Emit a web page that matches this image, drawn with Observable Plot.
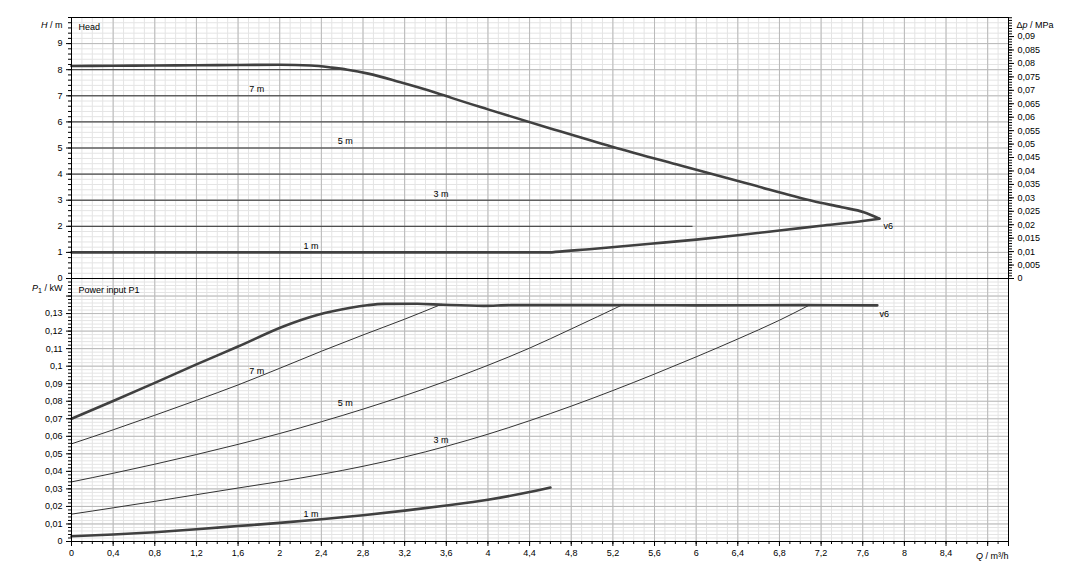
<!DOCTYPE html>
<html><head><meta charset="utf-8">
<script src="https://cdn.jsdelivr.net/npm/d3@7"></script>
<script src="https://cdn.jsdelivr.net/npm/@observablehq/plot@0.6"></script>
<style>
body{margin:0;background:#fff;}
#chart{position:relative;width:1081px;height:577px;background:#fff;overflow:hidden;}
#chart svg{position:absolute;left:0;}
</style></head><body><div id="chart"></div>
<script>
// ---------- tick labels ----------
const qTicks = [0,0.4,0.8,1.2,1.6,2,2.4,2.8,3.2,3.6,4,4.4,4.8,5.2,5.6,6,6.4,6.8,7.2,7.6,8,8.4,8.8];
const qTickLabels = ["0","0,4","0,8","1,2","1,6","2","2,4","2,8","3,2","3,6","4","4,4","4,8","5,2","5,6","6","6,4","6,8","7,2","7,6","8","8,4",""];
const hTicks = [0,1,2,3,4,5,6,7,8,9];
const hTickLabels = ["0","1","2","3","4","5","6","7","8","9"];
const pTicks = [0,0.01,0.02,0.03,0.04,0.05,0.06,0.07,0.08,0.09,0.1,0.11,0.12,0.13,0.14];
const pTickLabels = ["0","0,01","0,02","0,03","0,04","0,05","0,06","0,07","0,08","0,09","0,1","0,11","0,12","0,13",""];
const dpTicks = [0,0.005,0.01,0.015,0.02,0.025,0.03,0.035,0.04,0.045,0.05,0.055,0.06,0.065,0.07,0.075,0.08,0.085,0.09];
const dpTickLabels = ["0","0,005","0,01","0,015","0,02","0,025","0,03","0,035","0,04","0,045","0,05","0,055","0,06","0,065","0,07","0,075","0,08","0,085","0,09"];
const mPerMPa = 103; // head metres per MPa on the right axis

// ---------- head curves (Q m³/h, H m) ----------
const hMaxQ = [0,0.4,0.8,1.2,1.6,2.0,2.3,2.5,2.65,2.85,3.15,3.5,3.65,4.0,4.6,5.2,5.85,6.5,7.13,7.4,7.61,7.76];
const hMaxH = [8.14,8.15,8.16,8.17,8.18,8.19,8.16,8.08,8.0,7.85,7.53,7.12,6.92,6.48,5.75,5.04,4.33,3.63,2.96,2.73,2.54,2.29];
const hMinQ = [0,4.6,4.65,5.0,5.56,6.0,6.4,6.8,7.2,7.6,7.76];
const hMinH = [1,1,1.02,1.13,1.33,1.49,1.66,1.84,2.02,2.2,2.29];
// constant-head setting lines: level and Q where they stop
const hLevels = [2,3,4,5,6,7,8];
const hLevelEnds = [5.97,7.09,6.16,5.24,4.39,3.57,2.65];
const hCurveLabels = ["7 m","5 m","3 m","1 m"];
const hCurveLabelQ = [1.78,2.63,3.55,2.3];
const hCurveLabelH = [7.25,5.25,3.25,1.25];

// ---------- power curves (Q m³/h, P1 kW) ----------
const pMaxQ = [0,0.4,0.8,1.2,1.6,2.04,2.36,2.68,2.84,3.0,3.32,3.57,3.96,4.22,5.0,6.0,7.0,7.74];
const pMaxP = [0.07,0.0801,0.0905,0.101,0.1112,0.1228,0.1292,0.1333,0.1347,0.1355,0.1356,0.135,0.1344,0.1348,0.1348,0.1347,0.1348,0.1347];
const p7Q = [0,0.4,0.8,1.2,1.6,2.0,2.4,2.8,3.2,3.55];
const p7P = [0.0557,0.0637,0.072,0.0805,0.0893,0.0988,0.1085,0.1178,0.1268,0.1352];
const p5Q = [0,0.4,0.8,1.2,1.6,2.0,2.4,2.8,3.2,3.6,4.0,4.4,4.8,5.3];
const p5P = [0.034,0.0389,0.0441,0.0496,0.0554,0.0616,0.0683,0.0755,0.0832,0.0915,0.1005,0.1103,0.1212,0.1352];
const p3Q = [0,0.4,0.8,1.2,1.6,2.0,2.4,2.8,3.2,3.6,4.0,4.4,4.8,5.2,5.6,6.0,6.4,6.8,7.1];
const p3P = [0.0156,0.0192,0.0229,0.0267,0.0305,0.0342,0.0383,0.0429,0.0482,0.0543,0.0612,0.0689,0.0772,0.0861,0.0955,0.1053,0.1155,0.1262,0.1352];
const p1Q = [0,0.4,0.8,1.2,1.6,2.0,2.4,2.8,3.2,3.6,4.0,4.4,4.6];
const p1P = [0.003,0.004,0.0053,0.007,0.0088,0.0106,0.0127,0.015,0.0176,0.0205,0.0238,0.0282,0.0308];
const pCurveLabels = ["7 m","5 m","3 m","1 m"];
const pCurveLabelQ = [1.78,2.63,3.55,2.3];
const pCurveLabelP = [0.097,0.0787,0.0576,0.0154];

// ---------- helpers ----------
const pts = (xs, ys) => xs.map((x, i) => ({x, y: ys[i]}));
const lab = (ticks, labels) => d => { const i = ticks.findIndex(t => Math.abs(t - d) < 1e-9); return i < 0 ? "" : labels[i]; };
const FONT = "Liberation Sans, Arial, sans-serif";
const MINOR = "#e4e4e4", MAJOR = "#b9b9b9", DARK = "#333", THICK = "#404040";
const CURVE = "monotone-x";
const style = {fontFamily: FONT, fontSize: "9px", background: "transparent", color: "black", overflow: "visible"};

const rich = {
  "H / m": [["H","italic"],[" / m"]],
  "P1 / kW": [["P","italic"],["1","sub"],[" / kW","unsub"]],
  "Δp / MPa": [["Δ"],["p","italic"],[" / MPa"]],
  "Q / m³/h": [["Q","italic"],[" / m³/h"]]
};
function richify(svg) {
  d3.select(svg).selectAll("text").each(function() {
    const parts = rich[this.textContent];
    if (!parts) return;
    const el = d3.select(this);
    el.text("");
    for (const [s, kind] of parts) {
      const t = el.append("tspan").text(s);
      if (kind === "italic") t.attr("font-style", "italic");
      if (kind === "sub") t.attr("font-size", "7px").attr("dy", "0.3em");
      if (kind === "unsub") t.attr("dy", "-0.3em");
    }
  });
}

// ---------- top chart: head ----------
const levelRows = hLevels.map((h, i) => ({h, end: hLevelEnds[i]}));
const hLabelRows = hCurveLabels.map((t, i) => ({t, x: hCurveLabelQ[i], y: hCurveLabelH[i]}));
const headChart = Plot.plot({
  width: 1081, height: 279,
  marginLeft: 71, marginRight: 73, marginTop: 17, marginBottom: 1,
  style,
  x: {domain: [0, 9], axis: null},
  y: {domain: [0, 10], axis: null},
  marks: [
    Plot.gridX(d3.range(0, 9.001, 0.1), {stroke: MINOR, strokeOpacity: 1}),
    Plot.gridY(d3.range(0, 10.001, 0.2), {stroke: MINOR, strokeOpacity: 1}),
    Plot.gridX(qTicks, {stroke: MAJOR, strokeOpacity: 1}),
    Plot.gridY(hTicks, {stroke: MAJOR, strokeOpacity: 1}),
    Plot.ruleY(levelRows, {y: "h", x1: 0, x2: "end", stroke: DARK, strokeWidth: 1}),
    Plot.line(pts(hMaxQ, hMaxH), {x: "x", y: "y", stroke: THICK, strokeWidth: 2.6, curve: CURVE}),
    Plot.line(pts(hMinQ, hMinH), {x: "x", y: "y", stroke: THICK, strokeWidth: 2.6, curve: CURVE}),
    Plot.frame({stroke: "black"}),
    Plot.axisY(d3.range(0, 10.001, 0.2), {anchor: "left", tickSize: 3, fill: "none", label: null}),
    Plot.axisY(hTicks, {anchor: "left", tickSize: 5, tickPadding: 4, tickFormat: lab(hTicks, hTickLabels), label: null}),
    Plot.axisY(d3.range(0, 0.0971, 0.001).map(v => v * mPerMPa), {anchor: "right", tickSize: 3, fill: "none", label: null}),
    Plot.axisY(dpTicks.map(v => v * mPerMPa), {anchor: "right", tickSize: 5, tickPadding: 4, tickFormat: v => lab(dpTicks, dpTickLabels)(Math.round(v / mPerMPa * 1000) / 1000), label: null}),
    Plot.text(hLabelRows, {x: "x", y: "y", text: "t", fill: "black"}),
    Plot.text(["v6"], {x: 7.8, y: 2.02, textAnchor: "start", fill: "black"}),
    Plot.text(["Head"], {frameAnchor: "top-left", dx: 7, dy: 6, textAnchor: "start", fill: "black"}),
    Plot.text(["H / m"], {x: 0, y: 9.7, dx: -9, textAnchor: "end", fill: "black"}),
    Plot.text(["Δp / MPa"], {x: 9, y: 9.72, dx: 8, textAnchor: "start", fill: "black"})
  ]
});
headChart.style.top = "0px";

// ---------- bottom chart: power ----------
const pLabelRows = pCurveLabels.map((t, i) => ({t, x: pCurveLabelQ[i], y: pCurveLabelP[i]}));
const powerChart = Plot.plot({
  width: 1081, height: 299,
  marginLeft: 71, marginRight: 73, marginTop: 0, marginBottom: 36,
  style,
  x: {domain: [0, 9], axis: null},
  y: {domain: [0, 0.15], axis: null},
  marks: [
    Plot.gridX(d3.range(0, 9.001, 0.1), {stroke: MINOR, strokeOpacity: 1}),
    Plot.gridY(d3.range(0, 0.1501, 0.002), {stroke: MINOR, strokeOpacity: 1}),
    Plot.gridX(qTicks, {stroke: MAJOR, strokeOpacity: 1}),
    Plot.gridY(pTicks, {stroke: MAJOR, strokeOpacity: 1}),
    Plot.line(pts(p7Q, p7P), {x: "x", y: "y", stroke: DARK, strokeWidth: 1, curve: CURVE}),
    Plot.line(pts(p5Q, p5P), {x: "x", y: "y", stroke: DARK, strokeWidth: 1, curve: CURVE}),
    Plot.line(pts(p3Q, p3P), {x: "x", y: "y", stroke: DARK, strokeWidth: 1, curve: CURVE}),
    Plot.line(pts(p1Q, p1P), {x: "x", y: "y", stroke: THICK, strokeWidth: 2.6, curve: CURVE}),
    Plot.line(pts(pMaxQ, pMaxP), {x: "x", y: "y", stroke: THICK, strokeWidth: 2.6, curve: CURVE}),
    Plot.frame({stroke: "black"}),
    Plot.axisY(d3.range(0, 0.1501, 0.002), {anchor: "left", tickSize: 3, fill: "none", label: null}),
    Plot.axisY(pTicks, {anchor: "left", tickSize: 5, tickPadding: 4, tickFormat: lab(pTicks, pTickLabels), label: null}),
    Plot.axisX(d3.range(0, 9.001, 0.1), {anchor: "bottom", tickSize: 3, fill: "none", label: null}),
    Plot.axisX(qTicks.concat([9]), {anchor: "bottom", tickSize: 5, tickPadding: 3, tickFormat: lab(qTicks, qTickLabels), label: null}),
    Plot.text(pLabelRows, {x: "x", y: "y", text: "t", fill: "black"}),
    Plot.text(["v6"], {x: 7.76, y: 0.1295, textAnchor: "start", fill: "black"}),
    Plot.text(["Power input P1"], {frameAnchor: "top-left", dx: 7, dy: 8, textAnchor: "start", fill: "black"}),
    Plot.text(["P1 / kW"], {x: 0, y: 0.1443, dx: -9, textAnchor: "end", fill: "black"}),
    Plot.text(["Q / m³/h"], {x: 9, y: 0, dy: 15, textAnchor: "end", fill: "black"})
  ]
});
powerChart.style.top = "278px";

richify(headChart); richify(powerChart);
const chart = document.getElementById("chart");
chart.appendChild(powerChart);
chart.appendChild(headChart);
</script></body></html>
